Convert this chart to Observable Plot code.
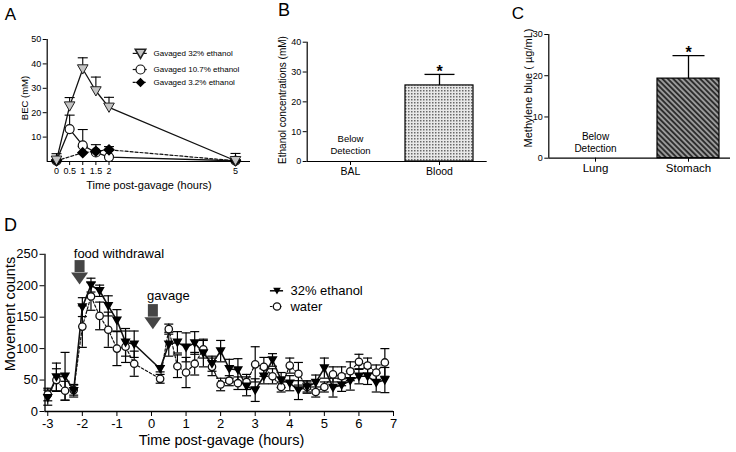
<!DOCTYPE html>
<html><head><meta charset="utf-8">
<script src="https://cdn.jsdelivr.net/npm/d3@7"></script>
<script src="https://cdn.jsdelivr.net/npm/@observablehq/plot@0.6"></script>
<style>
body{margin:0;background:#fff;}
#root{position:relative;width:736px;height:452px;font-family:"Liberation Sans",Arial,Helvetica,sans-serif;overflow:hidden;background:#fff;}
.lbl{position:absolute;white-space:nowrap;line-height:1;color:#000;}
</style></head><body><div id="root"></div>
<script>
// ---------- Panel A data ----------
const timeA = [0, 0.5, 1, 1.5, 2, 5];
const bec32 = [0.5, 22.7, 37.9, 28.9, 22.2, 0.3];
const bec32Err = [2.7, 3.5, 4.6, 5.7, 4.1, 3.0];
const bec107 = [0.3, 13.3, 6.6, 3.7, 1.8, 0.3];
const bec107Err = [0.5, 5.7, 6.5, 0.8, 0.5, 0.5];
const timeA3 = [0, 1, 1.5, 2, 5];
const bec3 = [0.3, 3.6, 4.2, 4.8, 0.3];
const bec3Err = [0.5, 2.5, 2.7, 1.3, 0.5];
const tickA = [0, 0.5, 1, 1.5, 2, 5];
const legendA = ["Gavaged 32% ethanol", "Gavaged 10.7% ethanol", "Gavaged 3.2% ethanol"];

// ---------- Panel B data ----------
const catB = ["BAL", "Blood"];
const ethConc = [0, 25.5];
const ethConcErr = [0, 3.7];
const belowB = ["Below\nDetection", null];

// ---------- Panel C data ----------
const catC = ["Lung", "Stomach"];
const mBlue = [0, 19.3];
const mBlueErr = [0, 5.6];
const belowC = ["Below\nDetection", null];

// ---------- Panel D data ----------
const timeD = [-3,-2.75,-2.5,-2.25,-2,-1.75,-1.5,-1.25,-1,-0.75,-0.5,
  0.25,0.5,0.75,1,1.25,1.5,1.75,2,2.25,2.5,2.75,3,3.25,3.5,3.75,4,4.25,4.5,4.75,5,5.25,5.5,5.75,6,6.25,6.5,6.75];
const ethanolD = [22,55,56,33,166,201,192,168,145,110,107,
  68,107,110,102,109,93,76,96,68,66,40,34,56,82,50,45,34,39,46,69,38,42,49,56,56,46,50];
const ethanolErr = [12,22,38,10,15,11,9,16,17,22,21,
  5,19,17,23,18,22,12,17,15,18,15,18,12,10,12,12,15,8,12,16,15,10,15,12,13,15,20];
const waterD = [27,50,33,34,135,183,152,130,100,103,76,
  52,131,72,62,76,99,71,43,49,45,47,75,71,56,39,73,60,39,31,39,59,56,64,79,73,62,78];
const waterErr = [10,18,15,8,33,22,22,28,27,25,20,
  7,8,18,24,18,14,14,10,8,10,12,28,15,12,8,12,18,10,8,8,12,15,15,12,12,12,22];
const tickDx = [-3,-2,-1,0,1,2,3,4,5,6,7];
const tickDy = [0,50,100,150,200,250];
const legendD = ["32% ethanol", "water"];
const notesD = ["food withdrawal", "gavage"];

// ---------- helpers ----------
const FONT = '"Liberation Sans", Arial, Helvetica, sans-serif';
const root = document.getElementById("root");
const rowsOf = (ts, vs, es) => ts.map((t, i) => ({t, v: vs[i], e: es[i]}));
const capSym = hw => ({draw(ctx) { ctx.moveTo(-hw, 0); ctx.lineTo(hw, 0); }});
const triDown = {draw(ctx, size) { const r = Math.sqrt(size / Math.PI);
  ctx.moveTo(-r, -r * 0.8); ctx.lineTo(r, -r * 0.8); ctx.lineTo(0, r * 0.95); ctx.closePath(); }};
const diamondSym = {draw(ctx, size) { const r = Math.sqrt(size / Math.PI);
  ctx.moveTo(0, -r); ctx.lineTo(r, 0); ctx.lineTo(0, r); ctx.lineTo(-r, 0); ctx.closePath(); }};
const arrowHead = {draw(ctx) { ctx.moveTo(-8.5, 0); ctx.lineTo(8.5, 0); ctx.lineTo(0, 12); ctx.closePath(); }};
const baseStyle = {fontFamily: FONT, fontSize: "9px", background: "transparent", color: "#000", overflow: "visible"};

function place(svg, left, top) {
  svg.style.position = "absolute"; svg.style.left = left + "px"; svg.style.top = top + "px";
  root.appendChild(svg); return svg;
}
function label(text, cx, cy, size, rotate = 0) {
  const d = document.createElement("div"); d.className = "lbl"; d.textContent = text;
  d.style.fontSize = size + "px"; d.style.left = cx + "px"; d.style.top = cy + "px";
  d.style.transform = "translate(-50%,-50%)" + (rotate ? ` rotate(${rotate}deg)` : "");
  root.appendChild(d);
}
function tickFont(svg, axis, size) {
  d3.select(svg).selectAll(`[aria-label^="${axis}-axis"] text`).style("font-size", size + "px");
}
function addDefs(svg, html) {
  const defs = document.createElementNS("http://www.w3.org/2000/svg", "defs");
  defs.innerHTML = html; svg.insertBefore(defs, svg.firstChild);
}

// ---------- Panel A ----------
const rA32 = rowsOf(timeA, bec32, bec32Err);
const rA107 = rowsOf(timeA, bec107, bec107Err);
const rA3 = rowsOf(timeA3, bec3, bec3Err);
const legA = legendA.map((name, i) => ({name, y: [44.3, 37.7, 32.4][i]}));
const errA = r => [
  Plot.ruleX(r, {x: "t", y1: "v", y2: d => d.v + d.e, stroke: "#000", strokeWidth: 1.1}),
  Plot.dot(r, {x: "t", y: d => d.v + d.e, symbol: capSym(5), r: 1, fill: "none", stroke: "#000", strokeWidth: 1.1})
];
const svgA = Plot.plot({
  width: 255, height: 200, marginLeft: 46.7, marginRight: 5, marginTop: 39, marginBottom: 39,
  style: baseStyle,
  x: {type: "linear", domain: [-0.354, 0, 2, 5, 5.356], range: [46.7, 56, 108.5, 235, 250],
      ticks: tickA, tickSize: 4, tickPadding: 2, tickFormat: d => String(d), label: null},
  y: {domain: [0, 50], ticks: [10, 20, 30, 40, 50], tickSize: 4, tickPadding: 2, label: null},
  marks: [
    Plot.ruleY([0], {stroke: "#000", strokeWidth: 1.2}),
    Plot.ruleX([-0.354], {stroke: "#000", strokeWidth: 1.2}),
    ...errA(rA32), ...errA(rA107), ...errA(rA3),
    Plot.line(rA3, {x: "t", y: "v", stroke: "#111", strokeWidth: 1.2, strokeDasharray: "3,2"}),
    Plot.line(rA107, {x: "t", y: "v", stroke: "#111", strokeWidth: 1.3}),
    Plot.line(rA32, {x: "t", y: "v", stroke: "#111", strokeWidth: 1.3}),
    Plot.dot(rA107, {x: "t", y: "v", r: 4.5, fill: "#fff", stroke: "#111", strokeWidth: 1.2}),
    Plot.dot(rA3, {x: "t", y: "v", symbol: diamondSym, r: 4.8, fill: "#000", stroke: "#000"}),
    Plot.dot(rA32, {x: "t", y: "v", symbol: triDown, r: 5.3, fill: "#c4c4c4", stroke: "#222", strokeWidth: 1}),
    // legend
    Plot.ruleY([legA[0]], {y: "y", x1: 2.574, x2: 2.906, stroke: "#111", strokeWidth: 1.2}),
    Plot.ruleY([legA[1]], {y: "y", x1: 2.574, x2: 2.906, stroke: "#111", strokeWidth: 1.2}),
    Plot.ruleY([legA[2]], {y: "y", x1: 2.574, x2: 2.906, stroke: "#111", strokeWidth: 1.2, strokeDasharray: "3,2"}),
    Plot.dot([legA[0]], {x: () => 2.747, y: "y", symbol: triDown, r: 5.3, fill: "#c4c4c4", stroke: "#222"}),
    Plot.dot([legA[1]], {x: () => 2.747, y: "y", r: 4.5, fill: "#fff", stroke: "#111", strokeWidth: 1.2}),
    Plot.dot([legA[2]], {x: () => 2.747, y: "y", symbol: diamondSym, r: 4.8, fill: "#000"}),
    Plot.text(legA, {x: () => 3.055, y: "y", text: "name", textAnchor: "start", fontSize: 8})
  ]
});
place(svgA, 0, 0);

// ---------- Panel B ----------
const rB = catB.map((c, i) => ({c, v: ethConc[i], e: ethConcErr[i], note: belowB[i]}));
const svgB = Plot.plot({
  width: 240, height: 200, marginLeft: 51.7, marginRight: 8.3, marginTop: 41.7, marginBottom: 39,
  style: baseStyle,
  x: {domain: catB, range: [49.3, 229.3], paddingInner: 0.233, paddingOuter: 0.1167, tickSize: 4, tickPadding: 2, label: null},
  y: {domain: [0, 40], ticks: [0, 10, 20, 30, 40], tickSize: 4, tickPadding: 2, label: null},
  marks: [
    Plot.ruleX(rB.filter(d => d.v > 0), {x: "c", y1: "v", y2: d => d.v + d.e, stroke: "#000", strokeWidth: 1.3}),
    Plot.dot(rB.filter(d => d.v > 0), {x: "c", y: d => d.v + d.e, symbol: capSym(15), r: 1, fill: "none", stroke: "#000", strokeWidth: 1.3}),
    Plot.barY(rB.filter(d => d.v > 0), {x: "c", y: "v", fill: "url(#dotsB)", stroke: "#000", strokeWidth: 1.2}),
    Plot.text(rB.filter(d => d.v > 0), {x: "c", y: d => d.v + d.e, text: () => "*", dy: -3, fontSize: 16, fontWeight: "bold"}),
    Plot.text(rB.filter(d => d.note), {x: "c", y: () => 5.9, text: "note", fontSize: 9.5, lineHeight: 1.25}),
    Plot.ruleY([0], {stroke: "#000", strokeWidth: 1.2}),
    Plot.ruleX([0], {x: null, dx: -90, stroke: "#000", strokeWidth: 1.2})
  ]
});
addDefs(svgB, '<pattern id="dotsB" width="3" height="3" patternUnits="userSpaceOnUse"><rect width="3" height="3" fill="#e8e8e8"/><rect width="1.5" height="1.5" fill="#6a6a6a"/></pattern>');
tickFont(svgB, "x", 10.5);
place(svgB, 255, 0);

// ---------- Panel C ----------
const rC = catC.map((c, i) => ({c, v: mBlue[i], e: mBlueErr[i], note: belowC[i]}));
const svgC = Plot.plot({
  width: 241, height: 200, marginLeft: 53.3, marginRight: 6, marginTop: 34, marginBottom: 42.3,
  style: baseStyle,
  x: {domain: catC, range: [53.3, 240], paddingInner: 0.332, paddingOuter: 0.166, tickSize: 4, tickPadding: 2, label: null},
  y: {domain: [0, 30], ticks: [0, 10, 20, 30], tickSize: 4, tickPadding: 2, label: null},
  marks: [
    Plot.ruleX(rC.filter(d => d.v > 0), {x: "c", y1: "v", y2: d => d.v + d.e, stroke: "#000", strokeWidth: 1.3}),
    Plot.dot(rC.filter(d => d.v > 0), {x: "c", y: d => d.v + d.e, symbol: capSym(16), r: 1, fill: "none", stroke: "#000", strokeWidth: 1.3}),
    Plot.barY(rC.filter(d => d.v > 0), {x: "c", y: "v", fill: "url(#hatchC)", stroke: "#000", strokeWidth: 1.2}),
    Plot.text(rC.filter(d => d.v > 0), {x: "c", y: d => d.v + d.e, text: () => "*", dy: -3, fontSize: 16, fontWeight: "bold"}),
    Plot.text(rC.filter(d => d.note), {x: "c", y: () => 3.8, text: "note", fontSize: 10, lineHeight: 1.2}),
    Plot.ruleY([0], {stroke: "#000", strokeWidth: 1.2}),
    Plot.ruleX([0], {x: null, dx: -90.85, stroke: "#000", strokeWidth: 1.2})
  ]
});
addDefs(svgC, '<pattern id="hatchC" width="3.8" height="10" patternUnits="userSpaceOnUse" patternTransform="rotate(-45)"><rect width="3.8" height="10" fill="#9a9a9a"/><line x1="1.9" y1="0" x2="1.9" y2="10" stroke="#111" stroke-width="1.5"/></pattern>');
tickFont(svgC, "x", 11.5);
place(svgC, 495, 0);

// ---------- Panel D ----------
const rEth = rowsOf(timeD, ethanolD, ethanolErr);
const rWat = rowsOf(timeD, waterD, waterErr);
const arrows = [{t: -2.08, top: 240, head: 221}, {t: 0.04, top: 170, head: 150}];
const notes = [{t: -2.248, y: 250, text: notesD[0]}, {t: -0.127, y: 184, text: notesD[1]}];
const legD = [{name: legendD[0], y: 192}, {name: legendD[1], y: 167}];
const errD = r => [
  Plot.ruleX(r, {x: "t", y1: d => d.v - d.e, y2: d => d.v + d.e, stroke: "#000", strokeWidth: 1.2}),
  Plot.dot(r, {x: "t", y: d => d.v + d.e, symbol: capSym(4.5), r: 1, fill: "none", stroke: "#000", strokeWidth: 1.2}),
  Plot.dot(r, {x: "t", y: d => d.v - d.e, symbol: capSym(4.5), r: 1, fill: "none", stroke: "#000", strokeWidth: 1.2})
];
const svgD = Plot.plot({
  width: 420, height: 252, marginLeft: 44.5, marginRight: 27, marginTop: 53.8, marginBottom: 41,
  style: {...baseStyle, fontSize: "13px"},
  x: {domain: [-3.08, 7], ticks: tickDx, tickSize: 5, tickPadding: 2, tickFormat: d => String(d), label: null},
  y: {domain: [0, 250], ticks: tickDy, tickSize: 5, tickPadding: 2, label: null},
  marks: [
    Plot.ruleY([0], {stroke: "#000", strokeWidth: 1.3}),
    Plot.ruleX([-3.08], {stroke: "#000", strokeWidth: 1.3}),
    ...errD(rWat), ...errD(rEth),
    Plot.line(rWat, {x: "t", y: "v", stroke: "#111", strokeWidth: 1.2, strokeDasharray: "2.5,2"}),
    Plot.line(rEth, {x: "t", y: "v", stroke: "#111", strokeWidth: 1.6}),
    Plot.dot(rWat, {x: "t", y: "v", r: 3.7, fill: "#fff", stroke: "#111", strokeWidth: 1.3}),
    Plot.dot(rEth, {x: "t", y: "v", symbol: triDown, r: 3.8, fill: "#000", stroke: "#000"}),
    // annotations
    Plot.ruleX(arrows, {x: "t", y1: "top", y2: "head", stroke: "#454545", strokeWidth: 10}),
    Plot.dot(arrows, {x: "t", y: "head", symbol: arrowHead, r: 1, fill: "#454545", stroke: "none"}),
    Plot.text(notes, {x: "t", y: "y", text: "text", textAnchor: "start", fontSize: 13}),
    // legend
    Plot.ruleY([legD[0]], {y: "y", x1: 3.44, x2: 3.82, stroke: "#111", strokeWidth: 1.6}),
    Plot.ruleY([legD[1]], {y: "y", x1: 3.44, x2: 3.82, stroke: "#111", strokeWidth: 1.2, strokeDasharray: "2.5,2"}),
    Plot.dot([legD[0]], {x: () => 3.63, y: "y", symbol: triDown, r: 3.8, fill: "#000"}),
    Plot.dot([legD[1]], {x: () => 3.63, y: "y", r: 3.7, fill: "#fff", stroke: "#111", strokeWidth: 1.3}),
    Plot.text(legD, {x: () => 4.02, y: "y", text: "name", textAnchor: "start", fontSize: 13})
  ]
});
place(svgD, 0, 200);

// ---------- titles ----------
label("A", 10.5, 14, 17);
label("B", 284, 10, 18);
label("C", 518, 12.5, 17);
label("D", 10.5, 225, 18);
label("BEC (mM)", 24.5, 98, 9.5, -90);
label("Time post-gavage (hours)", 149, 185, 11);
label("Ethanol concentrations (mM)", 283.3, 100, 10, -90);
label("Methylene blue ( µg/mL)", 527.5, 88, 11, -90);
label("Movement counts", 10, 314, 14.5, -90);
label("Time post-gavage (hours)", 221.5, 440, 14.5);
</script></body></html>
